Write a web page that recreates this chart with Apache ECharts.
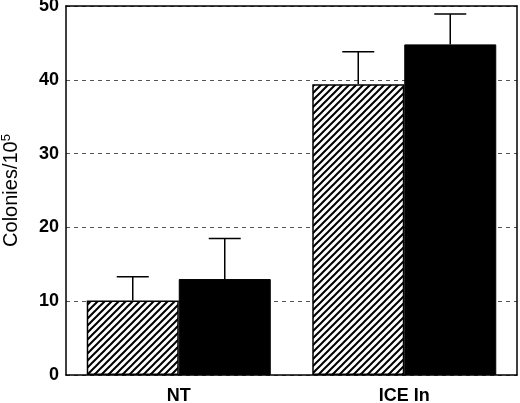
<!DOCTYPE html>
<html>
<head>
<meta charset="utf-8">
<script src="https://cdn.jsdelivr.net/npm/echarts@6/dist/echarts.min.js"></script>
<style>
  html, body { margin: 0; padding: 0; background: #fff; }
  #chart { width: 520px; height: 403px; }
</style>
</head>
<body>
<div id="chart"></div>
<script>
const categories = ['NT', 'ICE In']
const hatchedMeans = [10.1, 39.4]
const hatchedUpper = [13.3, 43.8]
const solidMeans = [13.0, 44.8]
const solidUpper = [18.5, 48.9]
const yTicks = [0, 10, 20, 30, 40, 50]

const FONT = "'Liberation Sans', Arial, Helvetica, sans-serif"
const BAR_W = 92
const CAP_W = 32

function makeHatch() {
  const size = 7
  const c = document.createElement('canvas')
  c.width = size
  c.height = size
  const ctx = c.getContext('2d')
  ctx.fillStyle = '#fff'
  ctx.fillRect(0, 0, size, size)
  ctx.strokeStyle = '#000'
  ctx.lineWidth = 2
  ctx.beginPath()
  ctx.moveTo(-1, size + 1)
  ctx.lineTo(size + 1, -1)
  ctx.moveTo(-2, 2)
  ctx.lineTo(2, -2)
  ctx.moveTo(size - 2, size + 2)
  ctx.lineTo(size + 2, size - 2)
  ctx.stroke()
  return c
}

function errorSeries(means, uppers, offset) {
  return {
    type: 'custom',
    z: 5,
    data: means.map((m, i) => [i, m, uppers[i]]),
    renderItem(params, api) {
      const base = api.coord([api.value(0), api.value(1)])
      const top = api.coord([api.value(0), api.value(2)])
      const x = base[0] + offset
      const style = { stroke: '#000', lineWidth: 1.5 }
      return {
        type: 'group',
        children: [
          { type: 'line', shape: { x1: x, y1: base[1], x2: x, y2: top[1] }, style },
          { type: 'line', shape: { x1: x - CAP_W / 2, y1: top[1], x2: x + CAP_W / 2, y2: top[1] }, style }
        ]
      }
    }
  }
}

const chart = echarts.init(document.getElementById('chart'))
chart.setOption({
  animation: false,
  backgroundColor: '#fff',
  textStyle: { fontFamily: FONT },
  grid: { left: 66, right: 3, top: 6, bottom: 28, show: false, containLabel: false, outerBoundsMode: 'none' },
  xAxis: [
    {
      type: 'category',
      data: categories,
      axisLine: { show: true, lineStyle: { color: '#000', width: 1.5 } },
      axisTick: { show: false },
      axisLabel: { color: '#000', fontSize: 18, fontWeight: 'bold', margin: 12, fontFamily: FONT }
    },
    {
      type: 'category',
      position: 'top',
      data: categories,
      axisLine: { show: true, onZero: false, lineStyle: { color: '#000', width: 1.5 } },
      axisTick: { show: false },
      axisLabel: { show: false },
      splitLine: { show: false }
    }
  ],
  yAxis: [
    {
      type: 'value',
      min: yTicks[0],
      max: yTicks[yTicks.length - 1],
      interval: 10,
      name: '{a|Colonies/10}{b|5}',
      nameLocation: 'middle',
      nameGap: 43,
      nameTextStyle: {
        color: '#000',
        fontFamily: FONT,
        rich: {
          a: { fontSize: 20, fontFamily: FONT, color: '#000' },
          b: { fontSize: 13, fontFamily: FONT, color: '#000', padding: [0, 0, 10, 0] }
        }
      },
      axisLine: { show: true, lineStyle: { color: '#000', width: 1.5 } },
      axisTick: { show: false },
      axisLabel: { color: '#000', fontSize: 18, fontWeight: 'bold', margin: 7, fontFamily: FONT },
      splitLine: { show: true, lineStyle: { color: '#555', width: 1, type: [4, 4] } }
    },
    {
      type: 'value',
      position: 'right',
      min: yTicks[0],
      max: yTicks[yTicks.length - 1],
      interval: 10,
      axisLine: { show: true, onZero: false, lineStyle: { color: '#000', width: 1.5 } },
      axisTick: { show: false },
      axisLabel: { show: false },
      splitLine: { show: false }
    }
  ],
  series: [
    {
      type: 'bar',
      data: hatchedMeans,
      barWidth: BAR_W,
      barGap: '0%',
      itemStyle: {
        color: { image: makeHatch(), repeat: 'repeat' },
        borderColor: '#000',
        borderWidth: 1.5
      }
    },
    {
      type: 'bar',
      data: solidMeans,
      barWidth: BAR_W,
      barGap: '0%',
      itemStyle: { color: '#000', borderColor: '#000', borderWidth: 1 }
    },
    errorSeries(hatchedMeans, hatchedUpper, -BAR_W / 2),
    errorSeries(solidMeans, solidUpper, BAR_W / 2)
  ]
})
</script>
</body>
</html>
